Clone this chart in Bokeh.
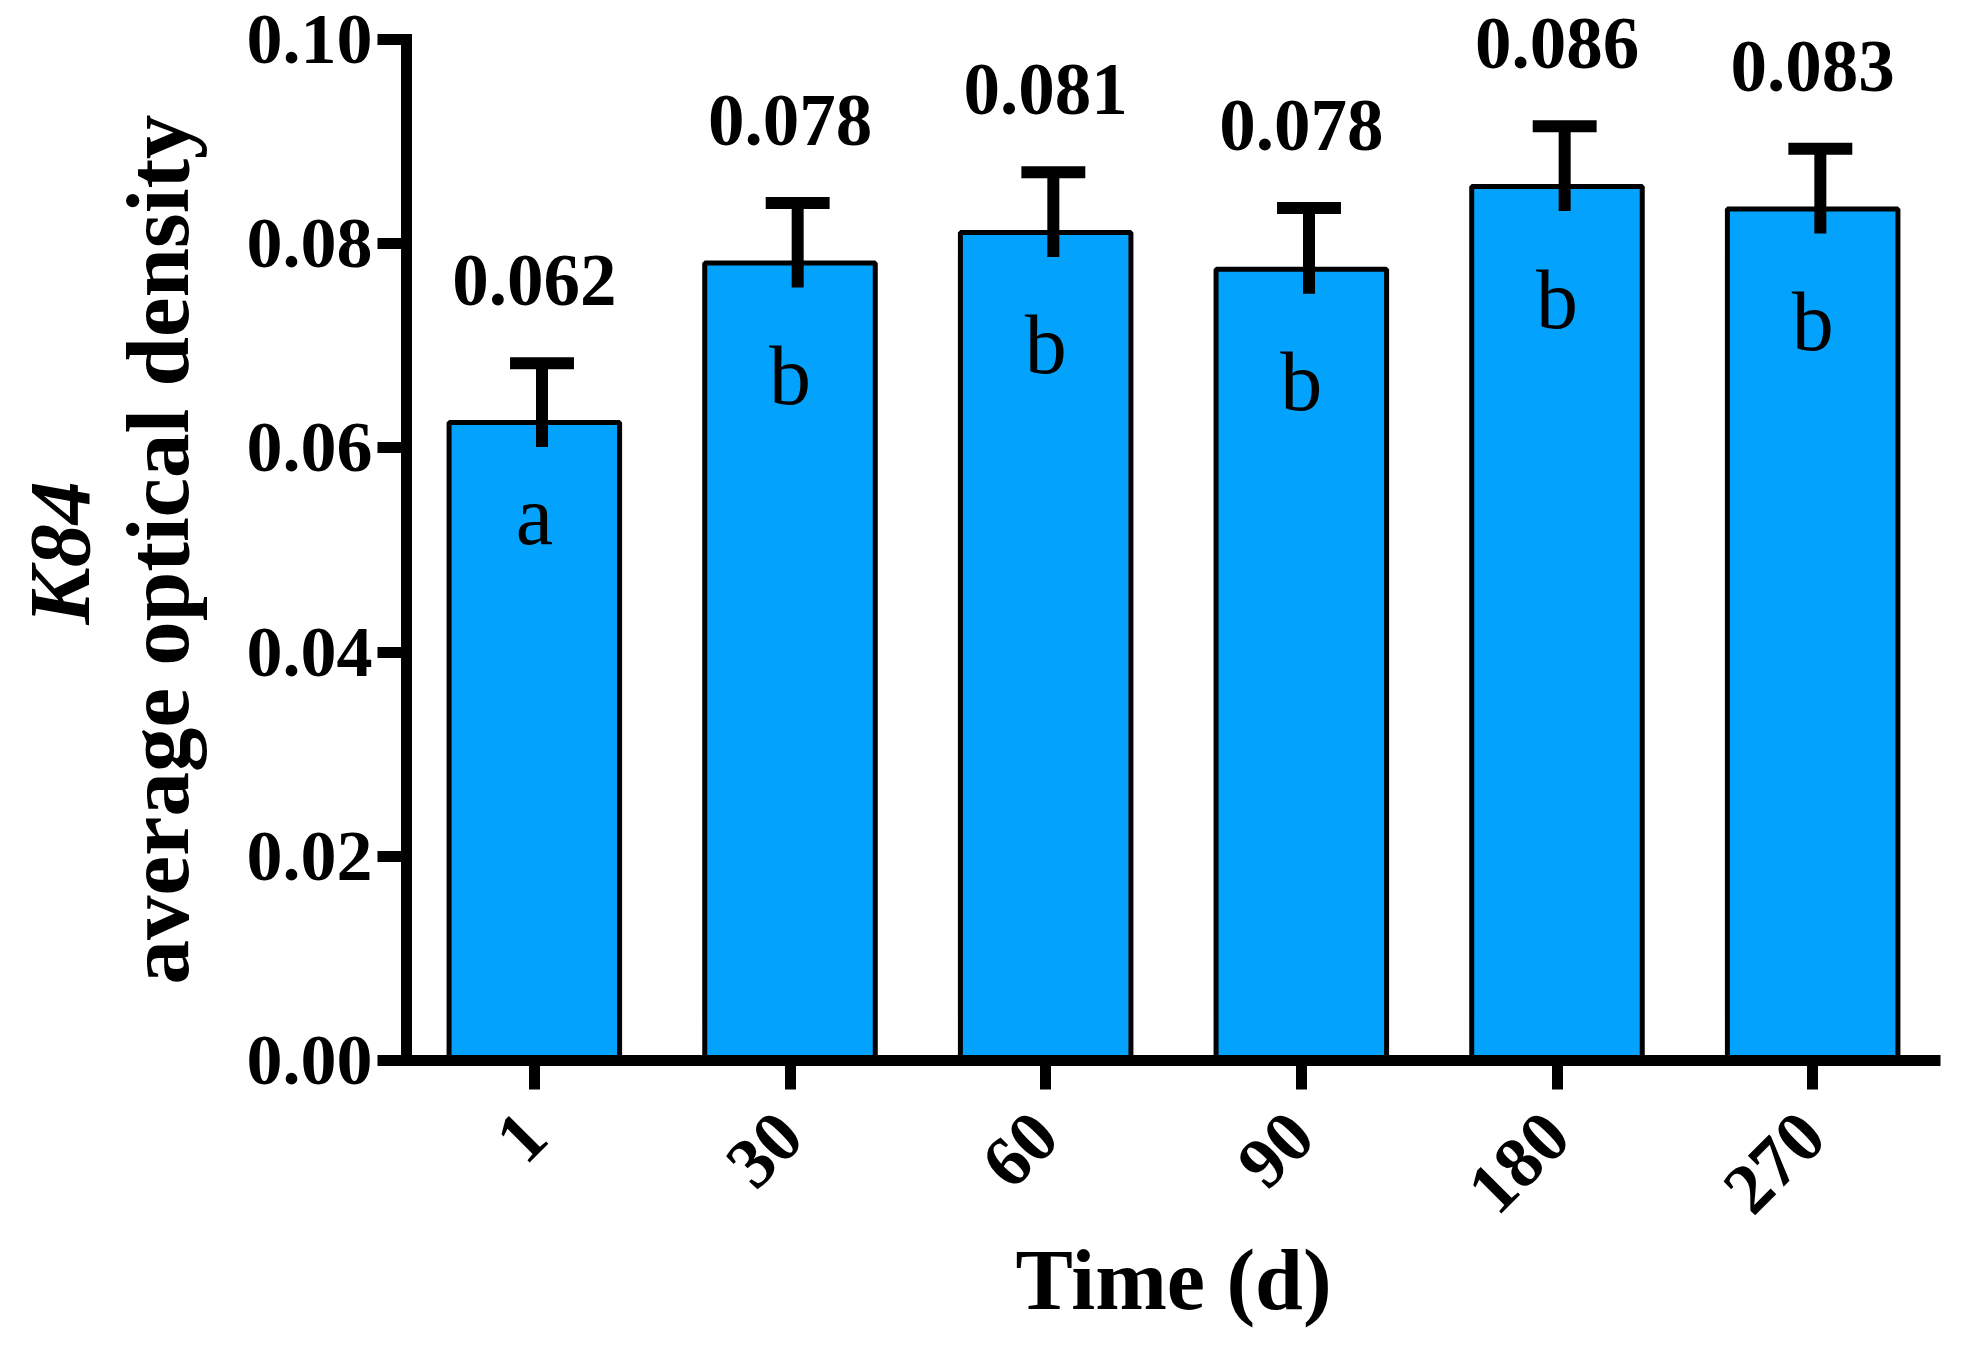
from math import pi

from bokeh.embed import file_html
from bokeh.models import (ColumnDataSource, FactorRange, FixedTicker, LabelSet,
                          NumeralTickFormatter, Range1d, Title)
from bokeh.plotting import figure
from bokeh.resources import INLINE
from bokeh.transform import dodge

# data
days = ["1", "30", "60", "90", "180", "270"]
means = [0.0625, 0.0781, 0.0811, 0.0775, 0.0856, 0.0834]
errors = [0.0058, 0.0059, 0.0059, 0.0060, 0.0059, 0.0059]
mean_labels = ["0.062", "0.078", "0.081", "0.078", "0.086", "0.083"]
groups = ["a", "b", "b", "b", "b", "b"]
y_ticks = [0.0, 0.02, 0.04, 0.06, 0.08, 0.10]

FONT = "Liberation Serif"
BLUE = "#03A2FD"
STUB = 0.0024  # how far the error stem pokes into the bar
# short letters sit a little higher under the bar top than tall ones
LETTER_DROP = {"a": -122, "b": -141}

src = ColumnDataSource(dict(
    day=days,
    mean=means,
    upper=[m + e for m, e in zip(means, errors)],
    lower=[m - STUB for m in means],
    lbl=mean_labels,
    grp=groups,
    grp_off=[LETTER_DROP[g] for g in groups],
))

# a little headroom above 0.10 so the top value label is not clipped;
# the y axis itself stops at 0.10 through its bounds
p = figure(width=1952, height=1352, x_range=FactorRange(factors=days),
           y_range=Range1d(0, 0.10343), output_backend="svg", toolbar_location=None,
           min_border_left=406, min_border_right=12, min_border_top=4,
           min_border_bottom=292)
p.outline_line_color = None
p.grid.visible = False
p.background_fill_color = "white"

# bars
p.vbar(x="day", top="mean", width=0.667, source=src, fill_color=BLUE,
       line_color="black", line_width=5)

# error bars (upper only, a bit right of centre like the original)
p.segment(x0=dodge("day", 0.03, range=p.x_range), y0="lower",
          x1=dodge("day", 0.03, range=p.x_range), y1="upper",
          source=src, line_color="black", line_width=12, line_cap="butt")
p.segment(x0=dodge("day", -0.095, range=p.x_range), y0="upper",
          x1=dodge("day", 0.155, range=p.x_range), y1="upper",
          source=src, line_color="black", line_width=12, line_cap="butt")

# group letters inside bars
letters = LabelSet(x="day", y="mean", text="grp", source=src, y_offset="grp_off",
                   text_align="center", text_baseline="alphabetic",
                   text_font=FONT, text_font_size="84px", text_color="black")
p.add_layout(letters)

# mean values above error bars
labels = LabelSet(x="day", y="upper", text="lbl", source=src, y_offset=58,
                  text_align="center", text_baseline="alphabetic",
                  text_font=FONT, text_font_size="73px",
                  text_font_style="bold", text_color="black")
p.add_layout(labels)

for ax in (p.xaxis[0], p.yaxis[0]):
    ax.axis_line_width = 11
    ax.axis_line_color = "black"
    ax.major_tick_line_width = 11
    ax.major_tick_line_color = "black"
    ax.major_tick_out = 29
    ax.major_tick_in = 0
    ax.minor_tick_line_color = None
    ax.major_label_text_font = FONT
    ax.major_label_text_font_size = "72px"
    ax.major_label_text_font_style = "bold"
    ax.major_label_text_color = "black"
    ax.axis_label_text_font = FONT
    ax.axis_label_text_font_style = "bold"
    ax.axis_label_text_color = "black"

p.yaxis.bounds = (0, 0.10)
p.yaxis.axis_line_cap = "square"
p.yaxis.ticker = FixedTicker(ticks=y_ticks)
p.yaxis.formatter = NumeralTickFormatter(format="0.00")
p.yaxis.major_label_standoff = 5

p.xaxis.major_label_orientation = pi / 4
p.xaxis.major_label_standoff = 35
p.xaxis.axis_label = "Time (d)"
p.xaxis.axis_label_text_font_size = "86px"
p.xaxis.axis_label_standoff = -5

# two-line y title, centred on the 0-0.10 axis rather than the whole frame
p.add_layout(Title(text="average optical density", text_font=FONT,
                   text_font_size="89px", text_font_style="bold",
                   text_color="black", align="left", offset=76,
                   standoff=74), "left")
p.add_layout(Title(text="K84", text_font=FONT, text_font_size="86px",
                   text_font_style="bold italic", text_color="black",
                   align="left", offset=436, standoff=-76), "left")

open("out.html", "w").write(file_html(p, INLINE))
